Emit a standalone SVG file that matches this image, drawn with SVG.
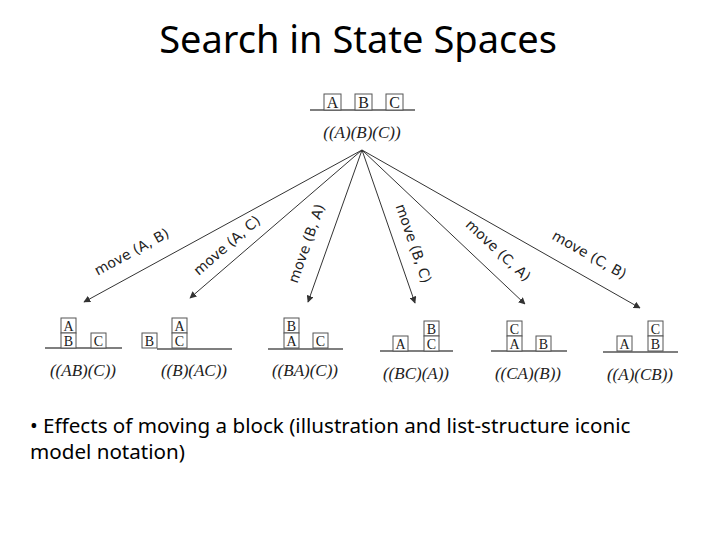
<svg xmlns="http://www.w3.org/2000/svg" width="720" height="540" viewBox="0 0 720 540">
<defs>
<marker id="ah" viewBox="0 0 10 10" refX="9" refY="5" markerWidth="7" markerHeight="7" orient="auto"><path d="M0,0 L10,5 L0,10 z" fill="#333"/></marker>
<style>
.t{font-family:"Noto Sans","Open Sans",sans-serif;fill:#000}
.b{fill:#fff;stroke:#555;stroke-width:1}
.bl{font-family:"Liberation Serif",serif;font-size:14px;fill:#222;text-anchor:middle}
.bt{font-family:"Liberation Serif",serif;font-size:16px;fill:#222;text-anchor:middle}
.lab{font-family:"Liberation Serif",serif;font-size:17px;font-style:italic;fill:#222;text-anchor:middle}
.g{stroke:#555;stroke-width:1.5}
.c{stroke:#333;stroke-width:1;fill:none;marker-end:url(#ah)}
.m{font-family:"DejaVu Sans",sans-serif;font-size:14px;fill:#222;text-anchor:middle}
</style>
</defs>
<rect width="720" height="540" fill="#fff"/>
<text class="t" x="358" y="53" font-size="38" text-anchor="middle">Search in State Spaces</text>

<g id="root">
<line class="g" x1="310" y1="110" x2="415" y2="110" stroke="#bbb"/>
<rect class="b" x="324" y="94" width="17" height="16"/><text class="bt" x="332.5" y="108">A</text>
<rect class="b" x="355" y="94" width="17" height="16"/><text class="bt" x="363.5" y="108">B</text>
<rect class="b" x="386" y="94" width="17" height="16"/><text class="bt" x="394.5" y="108">C</text>
<text class="lab" x="362" y="138">((A)(B)(C))</text>
</g>

<g id="connectors">
<line class="c" x1="362" y1="150" x2="84" y2="302"/>
<line class="c" x1="362" y1="150" x2="190" y2="298"/>
<line class="c" x1="362" y1="150" x2="308" y2="302"/>
<line class="c" x1="362" y1="150" x2="415" y2="303"/>
<line class="c" x1="362" y1="150" x2="525" y2="304"/>
<line class="c" x1="362" y1="150" x2="640" y2="308"/>
<text class="m" transform="translate(134,256) rotate(-28.7)">move (A, B)</text>
<text class="m" transform="translate(230,249) rotate(-40.7)">move (A, C)</text>
<text class="m" transform="translate(311,245) rotate(-70.4)">move (B, A)</text>
<text class="m" transform="translate(409,245) rotate(70.9)">move (B, C)</text>
<text class="m" transform="translate(495,254) rotate(43)">move (C, A)</text>
<text class="m" transform="translate(587,259) rotate(29.6)">move (C, B)</text>
</g>

<g id="s1">
<line class="g" x1="45" y1="348" x2="122" y2="348"/>
<rect class="b" x="61" y="318" width="15" height="15"/><text class="bl" x="68.5" y="331">A</text>
<rect class="b" x="61" y="333" width="15" height="15"/><text class="bl" x="68.5" y="346">B</text>
<rect class="b" x="91" y="333" width="15" height="15"/><text class="bl" x="98.5" y="346">C</text>
<text class="lab" x="83" y="376">((AB)(C))</text>
</g>
<g id="s2">
<line class="g" x1="157" y1="349" x2="232" y2="349"/>
<rect class="b" x="172" y="318" width="15" height="15"/><text class="bl" x="179.5" y="331">A</text>
<rect class="b" x="172" y="333" width="15" height="15"/><text class="bl" x="179.5" y="346">C</text>
<rect class="b" x="142" y="333" width="15" height="15"/><text class="bl" x="149.5" y="346">B</text>
<text class="lab" x="194" y="376">((B)(AC))</text>
</g>
<g id="s3">
<line class="g" x1="268" y1="349" x2="343" y2="349"/>
<rect class="b" x="284" y="318" width="15" height="15"/><text class="bl" x="291.5" y="331">B</text>
<rect class="b" x="284" y="333" width="15" height="15"/><text class="bl" x="291.5" y="346">A</text>
<rect class="b" x="313" y="333" width="15" height="15"/><text class="bl" x="320.5" y="346">C</text>
<text class="lab" x="305" y="376">((BA)(C))</text>
</g>
<g id="s4">
<line class="g" x1="380" y1="351" x2="453" y2="351"/>
<rect class="b" x="393" y="336" width="15" height="15"/><text class="bl" x="400.5" y="349">A</text>
<rect class="b" x="424" y="321" width="15" height="15"/><text class="bl" x="431.5" y="334">B</text>
<rect class="b" x="424" y="336" width="15" height="15"/><text class="bl" x="431.5" y="349">C</text>
<text class="lab" x="416" y="379">((BC)(A))</text>
</g>
<g id="s5">
<line class="g" x1="491" y1="351" x2="567" y2="351"/>
<rect class="b" x="507" y="321" width="15" height="15"/><text class="bl" x="514.5" y="334">C</text>
<rect class="b" x="507" y="336" width="15" height="15"/><text class="bl" x="514.5" y="349">A</text>
<rect class="b" x="536" y="336" width="15" height="15"/><text class="bl" x="543.5" y="349">B</text>
<text class="lab" x="528" y="379">((CA)(B))</text>
</g>
<g id="s6">
<line class="g" x1="603" y1="352" x2="678" y2="352"/>
<rect class="b" x="617" y="336" width="15" height="15"/><text class="bl" x="624.5" y="349">A</text>
<rect class="b" x="648" y="321" width="15" height="15"/><text class="bl" x="655.5" y="334">C</text>
<rect class="b" x="648" y="336" width="15" height="15"/><text class="bl" x="655.5" y="349">B</text>
<text class="lab" x="640" y="380">((A)(CB))</text>
</g>

<text class="t" x="30" y="433" font-size="20.6">• Effects of moving a block (illustration and list-structure iconic</text>
<text class="t" x="30" y="459" font-size="20.6">model notation)</text>
</svg>
